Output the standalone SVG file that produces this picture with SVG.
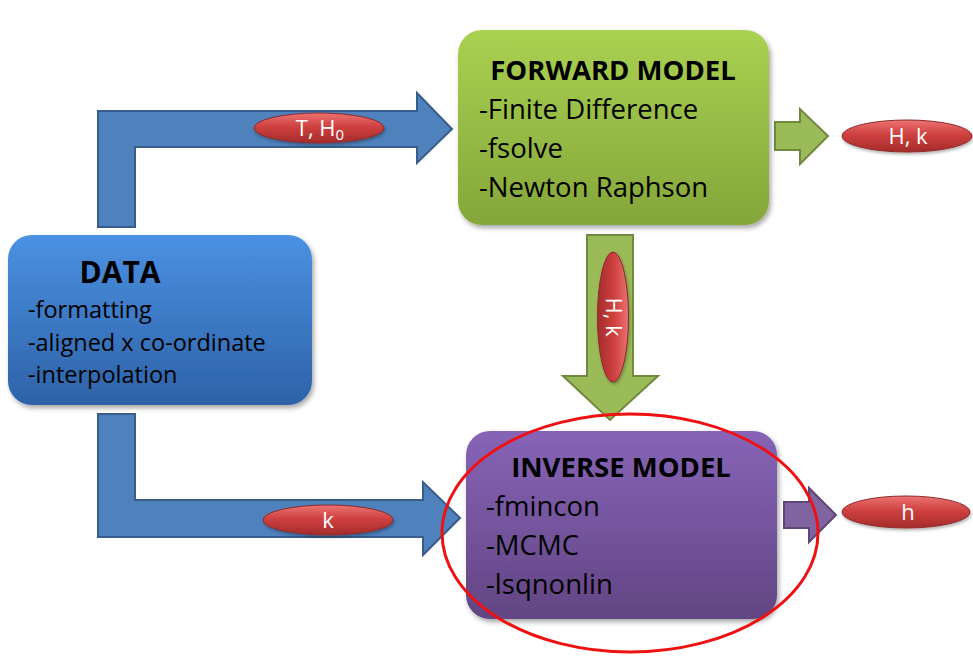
<svg xmlns="http://www.w3.org/2000/svg" width="973" height="661" viewBox="0 0 973 661">
  <defs>
    <linearGradient id="gBlueBox" x1="0" y1="0" x2="0" y2="1">
      <stop offset="0" stop-color="#4b91e2"/>
      <stop offset="1" stop-color="#2d62a7"/>
    </linearGradient>
    <linearGradient id="gGreenBox" x1="0" y1="0" x2="0" y2="1">
      <stop offset="0" stop-color="#a9d151"/>
      <stop offset="1" stop-color="#85a63a"/>
    </linearGradient>
    <linearGradient id="gPurpleBox" x1="0" y1="0" x2="0" y2="1">
      <stop offset="0" stop-color="#8764b7"/>
      <stop offset="1" stop-color="#624583"/>
    </linearGradient>
    <linearGradient id="gRed" x1="0" y1="0" x2="0" y2="1">
      <stop offset="0" stop-color="#ec7373"/>
      <stop offset="0.45" stop-color="#cf4140"/>
      <stop offset="1" stop-color="#a52b2a"/>
    </linearGradient>
    <linearGradient id="gRedV" x1="1" y1="0" x2="0" y2="0">
      <stop offset="0" stop-color="#ec7373"/>
      <stop offset="0.45" stop-color="#cf4140"/>
      <stop offset="1" stop-color="#a52b2a"/>
    </linearGradient>
    <filter id="shadow" x="-10%" y="-10%" width="125%" height="130%">
      <feDropShadow dx="2" dy="3" stdDeviation="2.5" flood-color="#000" flood-opacity="0.35"/>
    </filter>
    <filter id="shadowS" x="-10%" y="-20%" width="125%" height="150%">
      <feDropShadow dx="1" dy="2" stdDeviation="1.5" flood-color="#000" flood-opacity="0.3"/>
    </filter>
  </defs>
  <style>
    .head { font-family: "Open Sans", "Liberation Sans", sans-serif; font-weight: bold; font-size: 27.5px; fill: #000; }
    .item { font-family: "Open Sans", "Liberation Sans", sans-serif; font-size: 27.5px; fill: #000; }
    .ditem { font-family: "Open Sans", "Liberation Sans", sans-serif; font-size: 23.5px; fill: #000; }
    .lbl { font-family: "Open Sans", "Liberation Sans", sans-serif; font-size: 22px; fill: #fff; text-anchor: middle; }
    .pill { fill: url(#gRed); stroke: #8e2b2a; stroke-width: 1; filter: url(#shadowS); }
    .blueArrow { fill: #4f81bd; stroke: #385d8a; stroke-width: 2; }
    .greenArrow { fill: #9bbb59; stroke: #71893f; stroke-width: 2; }
    .purpleArrow { fill: #8064a2; stroke: #5c4776; stroke-width: 2; }
  </style>

  <g id="connectors">
    <polygon class="blueArrow" points="98,227 98,111 417,111 417,93 452,129 417,163 417,147 135,147 135,227"/>
    <polygon class="blueArrow" points="98,414 135,414 135,500 423,500 423,482 460,518 423,555 423,537 98,537"/>
    <polygon class="greenArrow" points="775,122 800,122 800,109 828,136 800,164 800,150 775,150"/>
    <polygon class="greenArrow" points="587,235 633,235 633,376 658,376 610,420 563,376 587,376"/>
    <polygon class="purpleArrow" points="784,502 809,502 809,488 836,515 809,542 809,528 784,528"/>
  </g>

  <g id="data">
    <rect x="8" y="235" width="304" height="170" rx="24" fill="url(#gBlueBox)" filter="url(#shadow)"/>
    <text class="head" x="120" y="283" text-anchor="middle" style="font-size:30px">DATA</text>
    <text class="ditem" x="28" y="318">-formatting</text>
    <text class="ditem" x="28" y="351">-aligned x co-ordinate</text>
    <text class="ditem" x="28" y="383">-interpolation</text>
  </g>

  <g id="forward-model">
    <rect x="458" y="30" width="311" height="195" rx="24" fill="url(#gGreenBox)" filter="url(#shadow)"/>
    <text class="head" x="613" y="80" text-anchor="middle">FORWARD MODEL</text>
    <text class="item" x="479" y="119">-Finite Difference</text>
    <text class="item" x="479" y="158">-fsolve</text>
    <text class="item" x="479" y="197">-Newton Raphson</text>
  </g>

  <g id="inverse-model">
    <rect x="466" y="431" width="311" height="188" rx="24" fill="url(#gPurpleBox)" filter="url(#shadow)"/>
    <text class="head" x="621" y="477" text-anchor="middle">INVERSE MODEL</text>
    <text class="item" x="486" y="516">-fmincon</text>
    <text class="item" x="486" y="555">-MCMC</text>
    <text class="item" x="486" y="594">-lsqnonlin</text>
  </g>

  <g id="label-T-H0">
    <ellipse class="pill" cx="319" cy="128" rx="65" ry="15"/>
    <text class="lbl" x="320" y="136">T, H<tspan style="font-size:15px" dy="4">0</tspan></text>
  </g>

  <g id="label-Hk-right">
    <ellipse class="pill" cx="907" cy="136" rx="65" ry="16"/>
    <text class="lbl" x="908" y="144">H, k</text>
  </g>

  <g id="label-Hk-down">
    <ellipse class="pill" cx="613" cy="317" rx="15.5" ry="65" style="fill:url(#gRedV)"/>
    <text class="lbl" transform="translate(606,317) rotate(90)" x="0" y="0">H, k</text>
  </g>

  <g id="label-k">
    <ellipse class="pill" cx="328" cy="520" rx="65" ry="15"/>
    <text class="lbl" x="328" y="528">k</text>
  </g>

  <g id="label-h">
    <ellipse class="pill" cx="906" cy="512" rx="64" ry="16"/>
    <text class="lbl" x="908" y="520">h</text>
  </g>

  <g id="highlight">
    <ellipse cx="630" cy="533" rx="188" ry="119" fill="none" stroke="#ee1111" stroke-width="3"/>
  </g>
</svg>
